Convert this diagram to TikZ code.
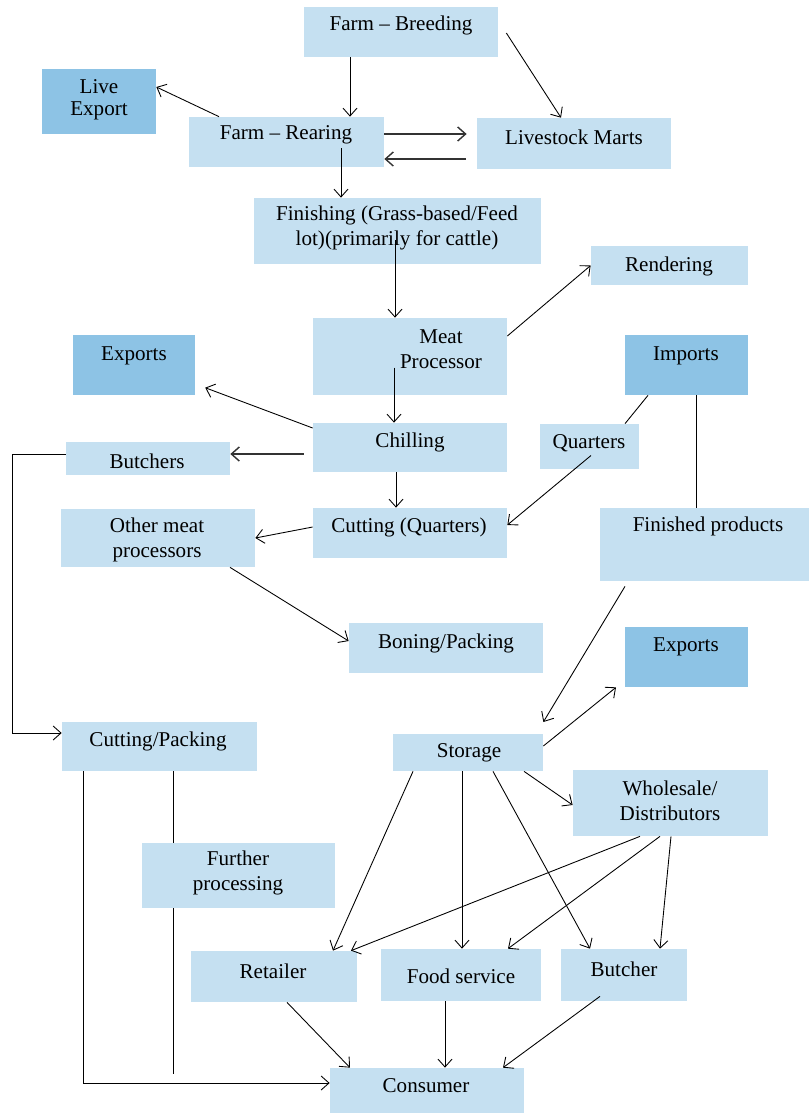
\documentclass[tikz,border=0pt]{standalone}
\usepackage{fontspec}
\setmainfont{Liberation Serif}
\usetikzlibrary{fit,arrows.meta}
\definecolor{boxblue}{RGB}{197,224,241}
\definecolor{darkblue}{RGB}{141,195,229}
\tikzset{
  box/.style={fill=boxblue, inner sep=0pt},
  darkbox/.style={fill=darkblue, inner sep=0pt},
  lbl/.style={font=\fontsize{12}{14}\selectfont, align=center, inner sep=0pt},
  flow/.style={-{Straight Barb[length=4.5pt,width=8pt]}, line width=0.5pt},
  link/.style={line width=0.5pt},
}
\begin{document}
\begin{tikzpicture}[x=0.02cm,y=-0.02cm]
  \useasboundingbox (0,0) rectangle (809,1113);
  % boxes
  \node[box, fit={(304,7) (498,57)}] (breed) {};
  \node[darkbox, fit={(42,69) (156,134)}] (live) {};
  \node[box, fit={(189,117) (384,167)}] (rear) {};
  \node[box, fit={(477,118) (671,169)}] (marts) {};
  \node[box, fit={(254,198) (541,264)}] (finish) {};
  \node[box, fit={(591,246) (748,285)}] (render) {};
  \node[box, fit={(313,318) (507,395)}] (meat) {};
  \node[darkbox, fit={(73,335) (195,395)}] (expA) {};
  \node[darkbox, fit={(625,335) (748,395)}] (imports) {};
  \node[box, fit={(313,423) (507,472)}] (chill) {};
  \node[box, fit={(66,442) (230,475)}] (butchers) {};
  \node[box, fit={(540,424) (639,469)}] (quart) {};
  \node[box, fit={(313,508) (507,558)}] (cutq) {};
  \node[box, fit={(61,509) (255,567)}] (other) {};
  \node[box, fit={(600,508) (809,581)}] (finprod) {};
  \node[box, fit={(349,623) (543,673)}] (boning) {};
  \node[darkbox, fit={(625,627) (748,687)}] (expB) {};
  \node[box, fit={(62,722) (257,771)}] (cutp) {};
  \node[box, fit={(393,734) (543,771)}] (storage) {};
  \node[box, fit={(573,770) (768,836)}] (whole) {};
  \node[box, fit={(142,843) (335,908)}] (further) {};
  \node[box, fit={(191,951) (357,1002)}] (retail) {};
  \node[box, fit={(381,949) (541,1001)}] (food) {};
  \node[box, fit={(561,949) (687,1001)}] (butcher) {};
  \node[box, fit={(330,1068) (524,1113)}] (consumer) {};
  % labels
  \node[lbl] (tbreed) at (401,25) {Farm -- Breeding};
  \node[lbl, font=\fontsize{12}{12.5}\selectfont] (tlive) at (99,100) {Live\\Export};
  \node[lbl] (trear) at (286,135) {Farm -- Rearing};
  \node[lbl] (tmarts) at (574,137) {Livestock Marts};
  \node[lbl] (tfinish) at (397,228) {Finishing (Grass-based/Feed\\lot)(primarily for cattle)};
  \node[lbl] (trender) at (669,266) {Rendering};
  \node[lbl] (tmeat) at (441,349) {Meat\\Processor};
  \node[lbl] (texpA) at (134,356) {Exports};
  \node[lbl] (timports) at (686,356) {Imports};
  \node[lbl] (tchill) at (410,442) {Chilling};
  \node[lbl] (tbutchers) at (147,461) {Butchers};
  \node[lbl] (tquart) at (589,443) {Quarters};
  \node[lbl] (tcutq) at (409,527) {Cutting (Quarters)};
  \node[lbl] (tother) at (157,540) {Other meat\\processors};
  \node[lbl] (tfinprod) at (708,526) {Finished products};
  \node[lbl] (tboning) at (446,643) {Boning/Packing};
  \node[lbl] (texpB) at (686,647) {Exports};
  \node[lbl] (tcutp) at (158,741) {Cutting/Packing};
  \node[lbl] (tstorage) at (469,753) {Storage};
  \node[lbl] (twhole) at (670,801) {Wholesale/\\Distributors};
  \node[lbl] (tfurther) at (238,873) {Further\\processing};
  \node[lbl] (tretail) at (273,971) {Retailer};
  \node[lbl] (tfood) at (461,976) {Food service};
  \node[lbl] (tbutcher) at (624,969) {Butcher};
  \node[lbl] (tconsumer) at (426,1086) {Consumer};
  % connectors
  \draw[flow] (breed.south -| 350,0) -- (rear.north -| 350,0);
  \draw[flow] (breed.east) ++(8,1) -- (marts.north -| 561,0);
  \draw[flow] (rear.north -| 219,0) -- (live.east |- 0,87);
  \draw[flow, line width=0.8pt, black!80, shorten >=5.7pt] (rear.east |- 0,134) -- (marts.west |- 0,134);
  \draw[flow, line width=0.8pt, black!80, shorten <=6pt] (marts.west |- 0,159) -- (rear.east |- 0,159);
  \draw[flow] (rear.center -| 341,0) ++(0,6) -- (finish.north -| 341,0);
  \draw[flow] (finish.center -| 395,0) ++(0,9) -- (meat.north -| 395,0);
  \draw[flow] (meat.east |- 0,336) -- (render.west);
  \draw[flow] (meat.center -| 394,0) ++(0,11) -- (chill.north -| 394,0);
  \draw[flow, shorten >=6pt] (chill.west |- 0,428) -- (expA.east |- 0,384);
  \draw[flow, line width=0.8pt, black!80, shorten <=5pt] (chill.west |- 0,454) -- (butchers.east |- 0,454);
  \draw[flow] (butchers.west |- 0,454) -- ++(-53,0) |- (cutp.west |- 0,733);
  \draw[link] (imports.south -| 648,0) -- (quart.north -| 625,0);
  \draw[link] (imports.south -| 696,0) -- (finprod.north -| 696,0);
  \draw[flow] (quart.center -| 591,0) ++(0,9) -- (cutq.east |- 0,525);
  \draw[flow] (chill.south -| 396,0) -- (cutq.north -| 396,0);
  \draw[flow] (cutq.west |- 0,527) -- (other.east |- 0,538);
  \draw[flow] (other.south -| 230,0) -- (boning.west |- 0,641);
  \draw[flow] (finprod.south -| 625,0) ++(0,5) -- (storage.east |- 0,722);
  \draw[flow] (storage.east |- 0,746) -- (expB.south -| 616,0);
  \draw[flow] (storage.south -| 524,0) -- (whole.west |- 0,805);
  \draw[flow] (storage.south -| 413,0) -- (retail.north -| 333,0);
  \draw[flow] (storage.south -| 462,0) -- (food.north -| 462,0);
  \draw[flow] (storage.south -| 493,0) -- (butcher.north -| 590,0);
  \draw[flow] (whole.south -| 640,0) -- (retail.north -| 351,0);
  \draw[flow] (whole.south -| 660,0) -- (food.north -| 508,0);
  \draw[flow] (whole.south -| 671,0) -- (butcher.north -| 660,0);
  \draw[flow] (cutp.south -| 83,0) |- (consumer.west |- 0,1083);
  \draw[link] (cutp.south -| 173,0) -- (further.north -| 173,0);
  \draw[link] (further.south -| 173,0) -- ++(0,166);
  \draw[flow] (retail.south -| 287,0) -- (consumer.north -| 350,0);
  \draw[flow] (food.south -| 445,0) -- (consumer.north -| 445,0);
  \draw[flow] (butcher.south -| 600,0) ++(0,-5) -- (consumer.north -| 503,0);
\end{tikzpicture}
\end{document}
